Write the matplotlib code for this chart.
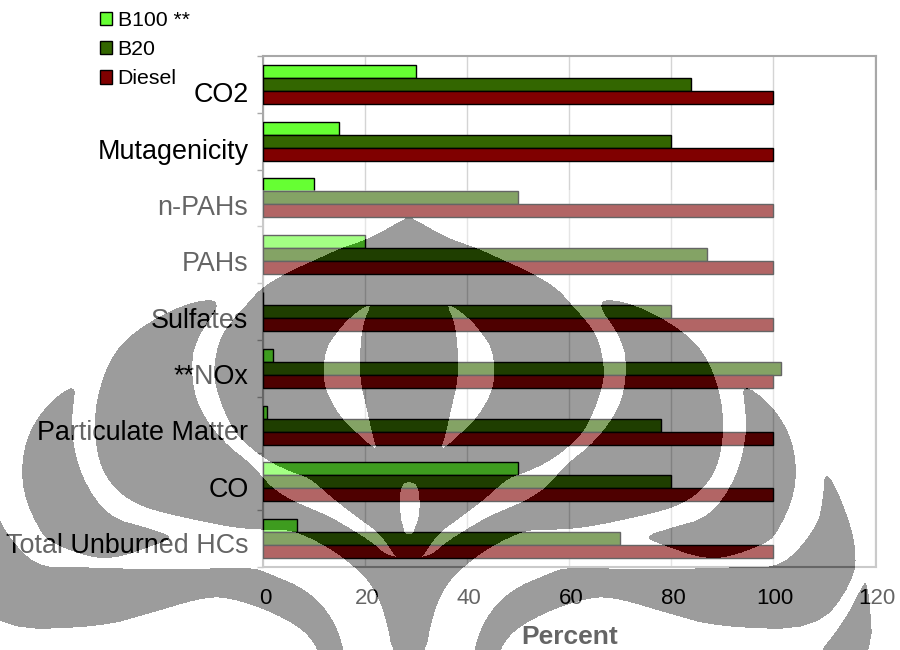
import numpy as np
import matplotlib
matplotlib.use('Agg')
import matplotlib.pyplot as plt
from matplotlib.path import Path
from matplotlib.transforms import ScaledTranslation

plt.rcParams['font.family'] = ['Liberation Sans', 'DejaVu Sans']

categories = ['CO2', 'Mutagenicity', 'n-PAHs', 'PAHs', 'Sulfates', '**NOx',
              'Particulate Matter', 'CO', 'Total Unburned HCs']
b100 = [30, 15, 10, 20, 0, 2, 0.7, 50, 6.7]
b20 = [84, 80, 50, 87, 80, 101.5, 78, 80, 70]
diesel = [100, 100, 100, 100, 100, 100, 100, 100, 100]
x_ticks = [0, 20, 40, 60, 80, 100, 120]

colors = ['#66ff33', '#336600', '#800000']

# contornos da marca d'agua, em pixels da figura (metade direita, espelhada em x=409)
centro = 409
bud = [(409, 216), (447, 238), (477, 248), (503, 260), (530, 272), (557, 288), (570, 303),
       (590, 325), (600, 343), (605, 373), (600, 395), (593, 413), (583, 433), (565, 450),
       (548, 462), (527, 472), (508, 478), (486, 498), (460, 518), (440, 532), (428, 548),
       (422, 558), (400, 570), (380, 400), (395, 280), (400, 222)]
crescente_interno = [(593, 298), (633, 303), (683, 330), (710, 360), (725, 413), (720, 463),
                     (703, 490), (677, 507), (633, 518), (583, 528), (550, 530), (525, 530),
                     (490, 547), (468, 563), (447, 583), (433, 613), (424, 660), (395, 660),
                     (395, 555), (428, 558), (445, 543), (465, 530), (491, 515), (523, 502),
                     (543, 490), (555, 478), (563, 467), (597, 440), (620, 407), (627, 373),
                     (623, 340)]
crescente_medio = [(742, 383), (770, 403), (790, 433), (797, 467), (793, 500), (777, 533),
                   (767, 543), (727, 558), (700, 558), (663, 545), (643, 537), (670, 528),
                   (710, 517), (737, 477), (747, 433), (745, 407)]
crescente_externo = [(825, 468), (842, 500), (857, 547), (853, 583), (817, 630), (717, 627),
                     (667, 613), (617, 598), (590, 597), (543, 613), (507, 635), (495, 665),
                     (470, 665), (483, 620), (510, 590), (550, 573), (567, 567), (650, 570),
                     (740, 567), (783, 567), (817, 527), (823, 500)]
cauda = [(868, 578), (874, 665), (810, 665), (845, 620), (860, 590)]
olho = [(373, 301), (350, 317), (337, 332), (325, 350), (323, 380), (330, 400), (343, 420),
        (357, 433), (370, 445), (377, 449), (373, 437), (367, 410), (360, 380), (360, 350),
        (363, 323)]
gota = [(409, 481), (419, 486), (420, 515), (414, 530), (413, 534), (405, 534), (404, 530),
        (400, 515), (400, 486)]


def espelha(pontos):
    return [(2 * centro - x, y) for x, y in pontos]


# arredonda os contornos (corte de cantos)
def suaviza(pontos, vezes=2):
    p = np.array(pontos, dtype=float)
    for _ in range(vezes):
        q = np.roll(p, -1, axis=0)
        p = np.column_stack([0.75 * p + 0.25 * q, 0.25 * p + 0.75 * q]).reshape(-1, 2)
    return p


#Função para montar a camada da marca d'agua
def marcaDagua(largura, altura):
    xx, yy = np.meshgrid(np.arange(largura) + 0.5, np.arange(altura) + 0.5)
    pixels = np.column_stack([xx.ravel(), yy.ravel()])

    escuro = np.zeros(len(pixels), dtype=bool)
    for forma in [bud, crescente_interno, crescente_medio, crescente_externo, cauda]:
        escuro |= Path(suaviza(forma)).contains_points(pixels)
        escuro |= Path(suaviza(espelha(forma))).contains_points(pixels)

    # o miolo do logo fica vazado
    for forma in [olho, espelha(olho), gota]:
        escuro &= ~Path(suaviza(forma)).contains_points(pixels)

    escuro = escuro.reshape(altura, largura)

    camada = np.zeros((altura, largura, 4))
    camada[yy >= 190] = [1, 1, 1, 0.4]
    camada[escuro] = [0, 0, 0, 0.39]
    return camada


fig = plt.figure(figsize=(9, 6.5), dpi=100)
ax = fig.add_axes([263 / 900, 1 - 567 / 650, 613.5 / 900, 511 / 650])

y_pos = np.arange(len(categories))[::-1] + 0.5
bar_height = 0.229

ax.barh(y_pos + bar_height, b100, bar_height, label='B100 **', color=colors[0], edgecolor='black', linewidth=1, zorder=3)
ax.barh(y_pos, b20, bar_height, label='B20', color=colors[1], edgecolor='black', linewidth=1, zorder=3)
ax.barh(y_pos - bar_height, diesel, bar_height, label='Diesel', color=colors[2], edgecolor='black', linewidth=1, zorder=3)

ax.set_xlim(0, 120.3)
ax.set_ylim(0, len(categories))
ax.set_xticks(x_ticks)
ax.set_yticks(y_pos)
ax.set_yticklabels(categories, fontsize=19.4)
ax.set_yticks(np.arange(len(categories) + 1), minor=True)
ax.tick_params(axis='y', which='major', length=0, pad=10.5)
ax.tick_params(axis='y', which='minor', length=4, color='#a8a8a8', width=1)
ax.tick_params(axis='x', length=0, pad=15, labelsize=16)

# os nomes das categorias ficam um pouco abaixo do centro de cada grupo
for i, rotulo in enumerate(ax.get_yticklabels()):
    deslocamento = ScaledTranslation(0, -(8 - 0.45 * i) / 100, fig.dpi_scale_trans)
    rotulo.set_transform(rotulo.get_transform() + deslocamento)

for rotulo in ax.get_xticklabels():
    rotulo.set_transform(rotulo.get_transform() + ScaledTranslation(2 / 100, 0, fig.dpi_scale_trans))

ax.set_xlabel('Percent', fontsize=19, fontweight='bold', labelpad=12)

ax.grid(axis='x', color='#d4d4d4', linewidth=1, zorder=0)
ax.set_axisbelow(True)
for lado in ax.spines.values():
    lado.set_color('#a8a8a8')
    lado.set_linewidth(1.5)

ax.legend(loc='upper left', bbox_to_anchor=(100 / 900, 1 - 11 / 650), bbox_transform=fig.transFigure,
          frameon=False, fontsize=15.3, handlelength=0.58, handleheight=0.58, handletextpad=0.25,
          labelspacing=0.48, borderpad=0, borderaxespad=0)

fig.figimage(marcaDagua(900, 650), origin='upper', zorder=10)

fig.savefig('out.png', dpi=100)
